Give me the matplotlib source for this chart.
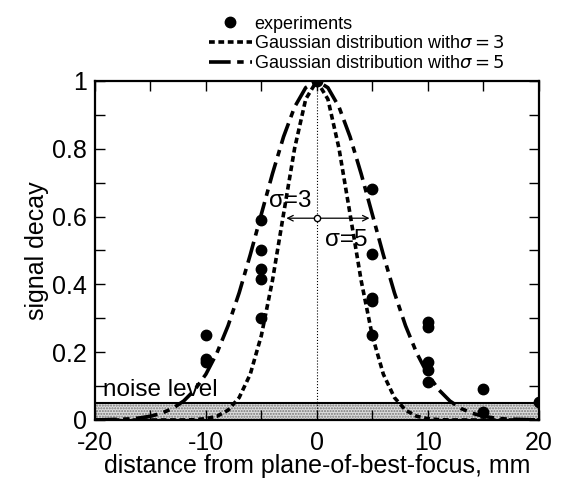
import numpy as np
import matplotlib
matplotlib.use("Agg")
import matplotlib.pyplot as plt
from matplotlib.ticker import MultipleLocator, FuncFormatter

plt.rcParams['font.family'] = ['Liberation Sans', 'DejaVu Sans']
plt.rcParams['axes.unicode_minus'] = False

# experiments (distance mm, signal decay)
exp_x = [0, -5, -5, -5, -5, -5, -10, -10, -10,
         5, 5, 5, 5, 5, 10, 10, 10, 10, 10, 15, 15, 20]
exp_y = [1.0, 0.59, 0.50, 0.445, 0.415, 0.30, 0.25, 0.18, 0.17,
         0.68, 0.49, 0.36, 0.35, 0.25, 0.29, 0.275, 0.17, 0.148, 0.112,
         0.092, 0.024, 0.053]

# Gaussian curves read at 1 mm steps
curve_x = list(range(-20, 21))
half3 = [1.0, 0.946, 0.801, 0.607, 0.411, 0.249, 0.135, 0.066, 0.029,
         0.011, 0.004, 0.001, 0, 0, 0, 0, 0, 0, 0, 0, 0]
half5 = [1.0, 0.980, 0.923, 0.835, 0.726, 0.607, 0.487, 0.375, 0.278,
         0.198, 0.135, 0.089, 0.056, 0.034, 0.020, 0.011, 0.006, 0.003,
         0.002, 0.001, 0.0]
gauss3 = half3[:0:-1] + half3
gauss5 = half5[:0:-1] + half5

noise_level = 0.05
sigma_y = 0.595

fig = plt.figure(figsize=(5.63, 4.79), dpi=100)
ax = fig.add_axes([0.1687, 0.1232, 0.788, 0.708])

ax.fill_between([-20, 20], 0, noise_level, facecolor='#dddddd',
                hatch='......', edgecolor='#777777', linewidth=0, zorder=1)
ax.axhline(noise_level, color='black', lw=1.5, zorder=2)
ax.text(-19.3, noise_level + 0.006, 'noise level', fontsize=17.5, va='bottom')

ax.plot([0, 0], [0, 1], ':', color='black', lw=0.8, zorder=2)

l1, = ax.plot(exp_x, exp_y, 'o', color='black', ms=7.5, zorder=5,
              label='experiments')
l2, = ax.plot(curve_x, gauss3, color='black', lw=2.6,
              linestyle=(0, (1.6, 1.0)), zorder=4,
              label=r'Gaussian distribution with$\sigma = 3$')
l3, = ax.plot(curve_x, gauss5, color='black', lw=2.6,
              linestyle=(0, (6.0, 1.8, 1.8, 1.8)), zorder=4,
              label=r'Gaussian distribution with$\sigma = 5$')

# sigma arrows
ax.annotate('', xy=(-3, sigma_y), xytext=(0, sigma_y),
            arrowprops=dict(arrowstyle='->', lw=0.9, color='black'))
ax.annotate('', xy=(5, sigma_y), xytext=(0, sigma_y),
            arrowprops=dict(arrowstyle='->', lw=0.9, color='black'))
ax.plot([0], [sigma_y], 'o', ms=4.5, mfc='white', mec='black', mew=1, zorder=6)
ax.text(-2.4, 0.645, 'σ=3', fontsize=17.5, ha='center', va='center')
ax.text(2.7, 0.53, 'σ=5', fontsize=17.5, ha='center', va='center')

ax.set_xlim(-20, 20)
ax.set_ylim(0, 1)
ax.xaxis.set_major_locator(MultipleLocator(10))
ax.xaxis.set_minor_locator(MultipleLocator(5))
ax.yaxis.set_major_locator(MultipleLocator(0.2))
ax.yaxis.set_minor_locator(MultipleLocator(0.1))
ax.yaxis.set_major_formatter(FuncFormatter(lambda v, p: '%g' % round(v, 1)))
ax.tick_params(which='both', direction='in', top=True, right=True,
               length=7, width=1, labelsize=18)
ax.tick_params(axis='x', pad=8)
ax.tick_params(axis='y', pad=6)
for s in ax.spines.values():
    s.set_linewidth(1.6)

ax.set_xlabel('distance from plane-of-best-focus, mm', fontsize=18, labelpad=-1)
ax.set_ylabel('signal decay', fontsize=18, labelpad=2)

fig.legend(handles=[l1, l2, l3], loc='upper left',
           bbox_to_anchor=(196 / 563, 1 - 3 / 479), frameon=False,
           fontsize=13, handlelength=2.4, handletextpad=0.1,
           labelspacing=0.15, borderpad=0.2)

fig.savefig('out.png', dpi=100)
